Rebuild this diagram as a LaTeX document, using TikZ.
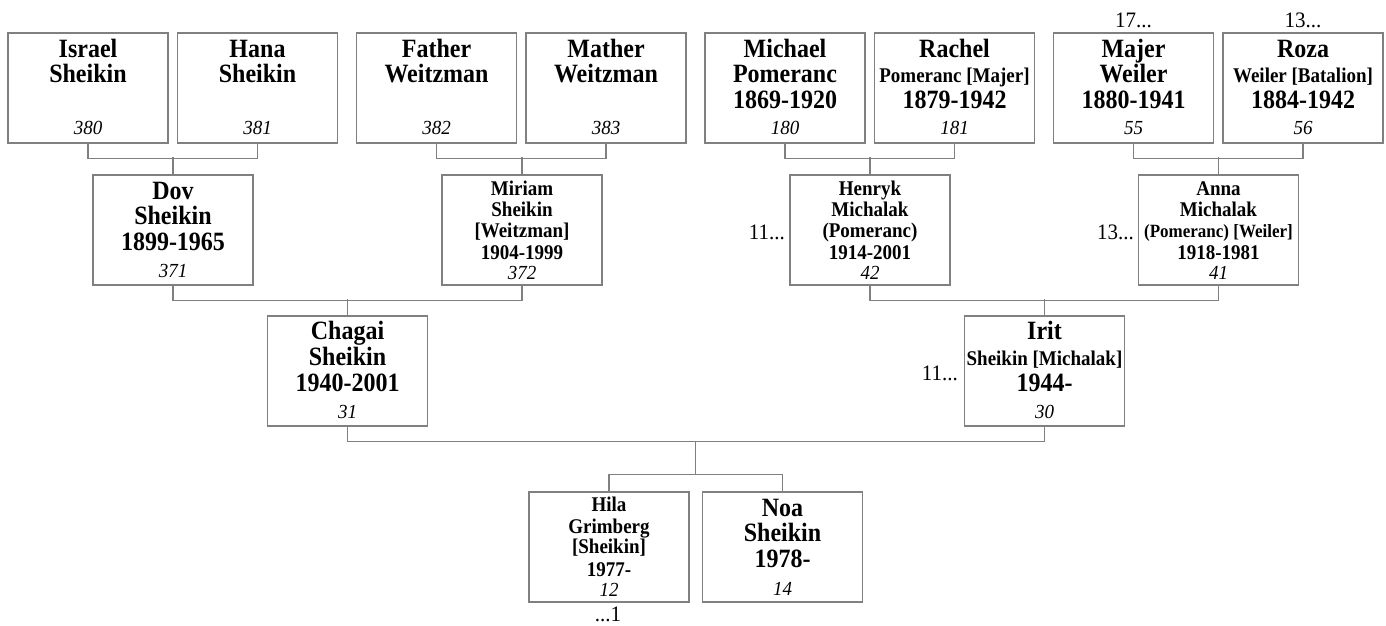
\documentclass[tikz,border=0pt]{standalone}
\usepackage{fontspec}
\setmainfont{Liberation Serif}
\definecolor{edge}{RGB}{128,128,128}
\tikzset{
  pbox/.style={draw=edge, line width=1.2pt, minimum width=160pt, minimum height=110pt, inner sep=0pt},
  big/.style={font=\fontsize{24}{28}\selectfont\bfseries, anchor=base, inner sep=0pt, yscale=1.1},
  med/.style={font=\fontsize{19}{22}\selectfont\bfseries, anchor=base, inner sep=0pt, yscale=1.1},
  sml/.style={font=\fontsize{17}{20}\selectfont\bfseries, anchor=base, inner sep=0pt, yscale=1.1},
  num/.style={font=\fontsize{19}{22}\selectfont\itshape, anchor=base, inner sep=0pt, yscale=1.05},
  note/.style={font=\fontsize{21}{24}\selectfont, anchor=base, inner sep=0pt, yscale=1.05},
  link/.style={draw=edge, line width=1.2pt},
}
\newcommand\pLine[5]{\path (#1.north) ++(0,#2) node[#3] (#1#4) {#5};}
\begin{document}
\begin{tikzpicture}[x=1pt, y=-1pt]
\useasboundingbox (0,0) rectangle (1386,625);
% row 1
\node[pbox] (israel) at (88,88) {};
\node[pbox] (hana) at (257.5,88) {};
\node[pbox] (father) at (436.5,88) {};
\node[pbox] (mather) at (606,88) {};
\node[pbox] (michael) at (785,88) {};
\node[pbox] (rachel) at (954.5,88) {};
\node[pbox] (majer) at (1133.5,88) {};
\node[pbox] (roza) at (1303,88) {};
% row 2
\node[pbox] (dov) at (173,230) {};
\node[pbox] (miriam) at (522,230) {};
\node[pbox] (henryk) at (870,230) {};
\node[pbox] (anna) at (1218.5,230) {};
% row 3
\node[pbox] (chagai) at (347.5,371) {};
\node[pbox] (irit) at (1044.5,371) {};
% row 4
\node[pbox] (hila) at (609,547) {};
\node[pbox] (noa) at (782.5,547) {};

% texts row 1
\pLine{israel}{25}{big}{a}{Israel}
\pLine{israel}{50.5}{big}{b}{Sheikin}
\pLine{israel}{102}{num}{n}{380}
\pLine{hana}{25}{big}{a}{Hana}
\pLine{hana}{50.5}{big}{b}{Sheikin}
\pLine{hana}{102}{num}{n}{381}
\pLine{father}{25}{big}{a}{Father}
\pLine{father}{50.5}{big}{b}{Weitzman}
\pLine{father}{102}{num}{n}{382}
\pLine{mather}{25}{big}{a}{Mather}
\pLine{mather}{50.5}{big}{b}{Weitzman}
\pLine{mather}{102}{num}{n}{383}
\pLine{michael}{25}{big}{a}{Michael}
\pLine{michael}{50.5}{big}{b}{Pomeranc}
\pLine{michael}{76.5}{big}{c}{1869-1920}
\pLine{michael}{102}{num}{n}{180}
\pLine{rachel}{25}{big}{a}{Rachel}
\pLine{rachel}{50.5}{med}{b}{Pomeranc [Majer]}
\pLine{rachel}{76.5}{big}{c}{1879-1942}
\pLine{rachel}{102}{num}{n}{181}
\pLine{majer}{25}{big}{a}{Majer}
\pLine{majer}{50.5}{big}{b}{Weiler}
\pLine{majer}{76.5}{big}{c}{1880-1941}
\pLine{majer}{102}{num}{n}{55}
\pLine{roza}{25}{big}{a}{Roza}
\pLine{roza}{50.5}{med}{b}{Weiler [Batalion]}
\pLine{roza}{76.5}{big}{c}{1884-1942}
\pLine{roza}{102}{num}{n}{56}

% texts row 2
\pLine{dov}{25}{big}{a}{Dov}
\pLine{dov}{50.5}{big}{b}{Sheikin}
\pLine{dov}{76}{big}{c}{1899-1965}
\pLine{dov}{103}{num}{n}{371}
\pLine{miriam}{21.5}{med}{a}{Miriam}
\pLine{miriam}{42.5}{med}{b}{Sheikin}
\pLine{miriam}{63.5}{med}{c}{[Weitzman]}
\pLine{miriam}{85}{med}{d}{1904-1999}
\pLine{miriam}{105.5}{num}{n}{372}
\pLine{henryk}{21.5}{med}{a}{Henryk}
\pLine{henryk}{42.5}{med}{b}{Michalak}
\pLine{henryk}{63.5}{med}{c}{(Pomeranc)}
\pLine{henryk}{85}{med}{d}{1914-2001}
\pLine{henryk}{105.5}{num}{n}{42}
\pLine{anna}{21.5}{med}{a}{Anna}
\pLine{anna}{42.5}{med}{b}{Michalak}
\pLine{anna}{63.5}{sml}{c}{(Pomeranc) [Weiler]}
\pLine{anna}{85}{med}{d}{1918-1981}
\pLine{anna}{105.5}{num}{n}{41}

% texts row 3
\pLine{chagai}{24}{big}{a}{Chagai}
\pLine{chagai}{50.5}{big}{b}{Sheikin}
\pLine{chagai}{76}{big}{c}{1940-2001}
\pLine{chagai}{103.5}{num}{n}{31}
\pLine{irit}{24}{big}{a}{Irit}
\pLine{irit}{50.5}{med}{b}{Sheikin [Michalak]}
\pLine{irit}{76}{big}{c}{1944-}
\pLine{irit}{103.5}{num}{n}{30}

% texts row 4
\pLine{hila}{20.5}{med}{a}{Hila}
\pLine{hila}{42}{med}{b}{Grimberg}
\pLine{hila}{62}{med}{c}{[Sheikin]}
\pLine{hila}{85}{med}{d}{1977-}
\pLine{hila}{105}{num}{n}{12}
\pLine{noa}{25}{big}{a}{Noa}
\pLine{noa}{50.5}{big}{b}{Sheikin}
\pLine{noa}{76.5}{big}{c}{1978-}
\pLine{noa}{104}{num}{n}{14}

% notes
\node[note] (n17) at (1133.5,27.5) {17...};
\node[note] (n13a) at (1303,27.5) {13...};
\node[note, anchor=base east] (n11a) at (785,239) {11...};
\node[note, anchor=base east] (n13b) at (1134,239) {13...};
\node[note, anchor=base east] (n11b) at (958,380) {11...};
\node[note] (n1) at (608,621) {...1};

% connectors
\draw[link] (israel.south) -- ++(0,15) -| (hana.south);
\draw[link] (dov.north) -- ++(0,-17);
\draw[link] (father.south) -- ++(0,15) -| (mather.south);
\draw[link] (miriam.north) -- ++(0,-17);
\draw[link] (michael.south) -- ++(0,15) -| (rachel.south);
\draw[link] (henryk.north) -- ++(0,-17);
\draw[link] (majer.south) -- ++(0,15) -| (roza.south);
\draw[link] (anna.north) -- ++(0,-17);
\draw[link] (dov.south) -- ++(0,15) -| (miriam.south);
\draw[link] (chagai.north) -- ++(0,-16);
\draw[link] (henryk.south) -- ++(0,15) -| (anna.south);
\draw[link] (irit.north) -- ++(0,-16);
\draw[link] (chagai.south) -- ++(0,15) -| (irit.south);
\draw[link] (hila.north) -- ++(0,-17) -| (noa.north);
\coordinate (famtop) at (695.75,441);
\coordinate (fambot) at (695.75,475);
\draw[link] (famtop) -- (fambot);
\end{tikzpicture}
\end{document}
